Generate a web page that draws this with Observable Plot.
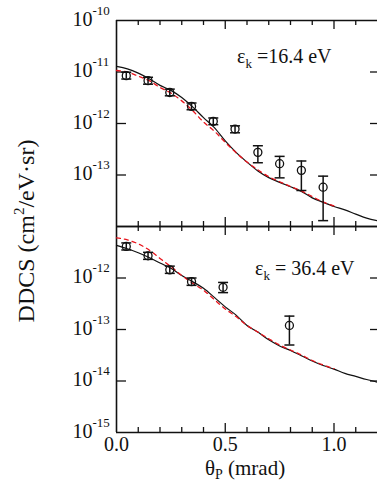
<!DOCTYPE html>
<html><head><meta charset="utf-8">
<script src="https://cdn.jsdelivr.net/npm/d3@7"></script>
<script src="https://cdn.jsdelivr.net/npm/@observablehq/plot@0.6"></script>
<style>
body{margin:0;background:#fff;}
#chart{position:relative;width:377px;height:485px;overflow:hidden;background:#fff;}
#chart svg{position:absolute;left:0;top:0;}
</style></head><body><div id="chart"></div>
<script>
// ---- theory curves (theta in mrad) ----
const thetaTheory = [0,0.05,0.1,0.15,0.2,0.25,0.3,0.35,0.4,0.45,0.5,0.55,0.6,0.65,0.7,0.75,0.8,0.85,0.9,0.95,1.0,1.05,1.1,1.15,1.2];
const solid16 = [1.29e-11,1.15e-11,9.5e-12,7.4e-12,5.5e-12,4.4e-12,3.2e-12,2.1e-12,1.3e-12,8.3e-13,4.6e-13,2.75e-13,1.78e-13,1.2e-13,8.9e-14,7.2e-14,5.9e-14,4.8e-14,3.6e-14,2.95e-14,2.45e-14,2.1e-14,1.74e-14,1.45e-14,1.29e-14];
const dashed16 = [1.07e-11,1.0e-11,8.3e-12,6.8e-12,5.0e-12,3.9e-12,2.75e-12,1.78e-12,1.07e-12,7.1e-13,4.3e-13,2.7e-13,1.78e-13,1.26e-13,9.3e-14,7.4e-14,6.0e-14,4.9e-14,3.8e-14,3.0e-14,2.5e-14];
const solid36 = [4.3e-12,3.7e-12,3.1e-12,2.5e-12,1.95e-12,1.55e-12,1.12e-12,8.5e-13,6.3e-13,4.2e-13,2.75e-13,1.9e-13,1.2e-13,8.9e-14,6.3e-14,4.8e-14,3.9e-14,3.1e-14,2.45e-14,2.0e-14,1.7e-14,1.41e-14,1.23e-14,1.07e-14,9.5e-15];
const dashed36 = [6.0e-12,5.5e-12,4.6e-12,3.5e-12,2.4e-12,1.66e-12,1.12e-12,7.9e-13,5.8e-13,3.8e-13,2.5e-13,1.78e-13,1.2e-13,8.9e-14,6.6e-14,5.0e-14,4.0e-14,3.2e-14,2.5e-14,2.05e-14,1.74e-14];

// ---- measured points ----
const theta16 = [0.045,0.145,0.245,0.345,0.445,0.545,0.65,0.75,0.85,0.95];
const ddcs16  = [8.5e-12,6.8e-12,4.0e-12,2.15e-12,1.1e-12,7.8e-13,2.75e-13,1.66e-13,1.23e-13,5.8e-14];
const lo16    = [7.3e-12,5.8e-12,3.45e-12,1.85e-12,9.5e-13,6.6e-13,1.73e-13,8.8e-14,5.0e-14,1.3e-14];
const hi16    = [9.9e-12,7.9e-12,4.65e-12,2.5e-12,1.28e-12,9.0e-13,3.7e-13,2.3e-13,1.87e-13,9.5e-14];
const theta36 = [0.045,0.145,0.245,0.345,0.49,0.795];
const ddcs36  = [4.1e-12,2.7e-12,1.44e-12,8.5e-13,6.6e-13,1.2e-13];
const lo36    = [3.5e-12,2.3e-12,1.23e-12,7.2e-13,5.2e-13,5.0e-14];
const hi36    = [4.8e-12,3.15e-12,1.7e-12,1.0e-12,8.2e-13,1.82e-13];

// ---- ticks ----
const xMinor = [0.1,0.2,0.3,0.4,0.6,0.7,0.8,0.9,1.1];
const xMajor = [0.5,1.0];
const xTickValues = [0,0.5,1.0];
const xTickLabels = ["0.0","0.5","1.0"];
const yTicksTop = [1e-11,1e-12,1e-13];
const yLabelsTop = [1e-10,1e-11,1e-12,1e-13];
const yTicksBottom = [1e-12,1e-13,1e-14];
const yLabelsBottom = [1e-12,1e-13,1e-14,1e-15];

const W = 377, H = 485, ML = 116, FH = 206, FW = W - ML;
const FONT = "'Liberation Serif','Times New Roman',serif";
const cap = {draw(ctx, size){const r = Math.sqrt(size/Math.PI); ctx.moveTo(-r,0); ctx.lineTo(r,0);}};

function panel(opts){
  const {mt, mb, yDomain, yTicks, yLabels, curveS, curveD, px, py, plo, phi} = opts;
  const pts = px.map((x,i)=>({x, y:py[i], lo:plo[i], hi:phi[i]}));
  const sol = thetaTheory.map((x,i)=>({x, y:curveS[i]}));
  const das = curveD.map((y,i)=>({x:thetaTheory[i], y}));
  return Plot.plot({
    width: W, height: H, marginTop: mt, marginBottom: mb, marginLeft: ML, marginRight: 0,
    style: {background: "transparent", overflow: "visible", fontFamily: FONT, color: "#111"},
    x: {domain: [0, 1.2], axis: null},
    y: {type: "log", domain: yDomain, axis: null},
    marks: [
      Plot.ruleX([0], {stroke: "#111", strokeWidth: 1.6}),
      Plot.ruleY(yDomain, {stroke: "#111", strokeWidth: 1.6}),
      Plot.tickX(xMinor, {x: d=>d, insetBottom: FH-5, stroke:"#111", strokeWidth:1.3}),
      Plot.tickX(xMajor, {x: d=>d, insetBottom: FH-9, stroke:"#111", strokeWidth:1.3}),
      Plot.tickX(xMinor, {x: d=>d, insetTop: FH-5, stroke:"#111", strokeWidth:1.3}),
      Plot.tickX(xMajor, {x: d=>d, insetTop: FH-9, stroke:"#111", strokeWidth:1.3}),
      Plot.tickY(yTicks, {y: d=>d, insetRight: FW-10, stroke:"#111", strokeWidth:1.3}),
      Plot.tickY(yTicks, {y: d=>d, insetLeft: FW-7, stroke:"#111", strokeWidth:1.3}),
      Plot.text(yLabels, {y: d=>d, text: ()=>"10", frameAnchor: "left", textAnchor: "end", dx: -24, dy: -1, fontSize: 20, fill: "#111"}),
      Plot.text(yLabels, {y: d=>d, text: d=>String(Math.round(Math.log10(d))), frameAnchor: "left", textAnchor: "start", dx: -24, dy: -10, fontSize: 13, fill: "#111"}),
      Plot.line(sol, {x: "x", y: "y", stroke: "#111", strokeWidth: 1.2, curve: "monotone-x"}),
      Plot.line(das, {x: "x", y: "y", stroke: "#e8141c", strokeWidth: 1.3, strokeDasharray: "4,4", curve: "monotone-x"}),
      Plot.ruleX(pts, {x: "x", y1: "lo", y2: "hi", stroke: "#111", strokeWidth: 1.5}),
      Plot.dot(pts, {x: "x", y: "lo", symbol: cap, r: 5, stroke: "#111", strokeWidth: 1.5}),
      Plot.dot(pts, {x: "x", y: "hi", symbol: cap, r: 5, stroke: "#111", strokeWidth: 1.5}),
      Plot.dot(pts, {x: "x", y: "y", r: 4, stroke: "#111", strokeWidth: 1.3, fill: "none"})
    ]
  });
}

const topPanel = panel({mt: 20, mb: H-226, yDomain: [1e-14, 1e-10], yTicks: yTicksTop, yLabels: yLabelsTop,
  curveS: solid16, curveD: dashed16, px: theta16, py: ddcs16, plo: lo16, phi: hi16});
const bottomPanel = panel({mt: 226, mb: H-432, yDomain: [1e-15, 1e-11], yTicks: yTicksBottom, yLabels: yLabelsBottom,
  curveS: solid36, curveD: dashed36, px: theta36, py: ddcs36, plo: lo36, phi: hi36});

const xLabelsPlot = Plot.plot({
  width: W, height: H, marginTop: 226, marginBottom: H-432, marginLeft: ML, marginRight: 0,
  style: {background: "transparent", overflow: "visible", fontFamily: FONT},
  x: {domain: [0, 1.2], axis: null}, y: {type:"log", domain:[1e-15,1e-11], axis: null},
  marks: [Plot.text(xTickValues, {x: d=>d, text: (d,i)=>xTickLabels[i], frameAnchor: "bottom", lineAnchor: "middle", dy: 12, fontSize: 20, fill: "#111"})]
});

const chart = document.getElementById("chart");
chart.append(topPanel, bottomPanel, xLabelsPlot);

const s = d3.select(xLabelsPlot);
function label(x, y, parts, anchor, rotate){
  const t = s.append("text").attr("x", x).attr("y", y).attr("fill", "#111")
    .attr("font-family", FONT).attr("text-anchor", anchor || "start");
  if (rotate) t.attr("transform", `rotate(-90 ${x} ${y})`);
  parts.forEach(p => {
    const ts = t.append("tspan").text(p.t).attr("font-size", p.fs);
    if (p.dy) ts.attr("dy", p.dy);
  });
}
label(237, 63, [{t:"ε", fs:20},{t:"k", fs:13, dy:5},{t:" =16.4 eV", fs:20, dy:-5}]);
label(255, 275, [{t:"ε", fs:20},{t:"k", fs:13, dy:5},{t:" = 36.4 eV", fs:20, dy:-5}]);
label(245, 475, [{t:"θ", fs:21},{t:"P", fs:14, dy:4},{t:" (mrad)", fs:21, dy:-4}], "middle");
label(34, 231, [{t:"DDCS (cm", fs:24},{t:"2", fs:15, dy:-10},{t:"/eV·sr)", fs:24, dy:10}], "middle", true);
</script></body></html>
